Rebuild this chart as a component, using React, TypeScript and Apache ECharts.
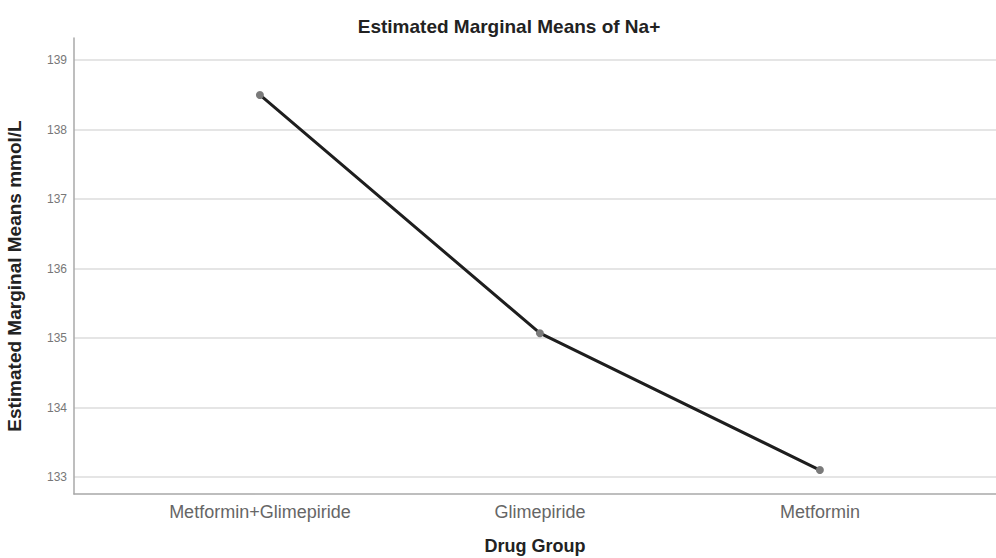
import React, { useEffect, useRef } from "react";
import * as echarts from "echarts";

const categories = ["Metformin+Glimepiride", "Glimepiride", "Metformin"];
const means = [138.5, 135.07, 133.1];
const yTicks = [133, 134, 135, 136, 137, 138, 139];

const FONT = "Liberation Sans, Arial, sans-serif";

export default function App() {
  const ref = useRef<HTMLDivElement>(null);
  useEffect(() => {
    if (!ref.current) return;
    const chart = echarts.init(ref.current, null, { renderer: "svg" });
    chart.setOption({
      animation: false,
      backgroundColor: "#ffffff",
      title: {
        text: "Estimated Marginal Means of Na+",
        left: 504,
        top: 12,
        textAlign: "center",
        textStyle: { fontFamily: FONT, fontSize: 19, fontWeight: "bold", color: "#222" },
      },
      grid: { left: 74, right: 0, top: 38, bottom: 64, containLabel: false, outerBoundsMode: "none" },
      xAxis: {
        type: "value",
        min: -0.664,
        max: 2.629,
        name: "Drug Group",
        nameLocation: "middle",
        nameGap: 43,
        nameTextStyle: { fontFamily: FONT, fontSize: 18, fontWeight: "bold", color: "#222", verticalAlign: "top" },
        axisLine: { show: true, onZero: false, lineStyle: { color: "#a8a8a8", width: 1.5 } },
        axisTick: { show: false, customValues: [0, 1, 2] },
        splitLine: { show: false },
        axisLabel: {
          customValues: [0, 1, 2],
          formatter: (v: number) => categories[Math.round(v)] ?? "",
          margin: 9,
          fontFamily: FONT,
          fontSize: 18,
          color: "#666",
        },
      },
      yAxis: {
        type: "value",
        min: 132.755,
        max: 139.32,
        name: "Estimated Marginal Means mmol/L",
        nameLocation: "middle",
        nameGap: 50,
        nameTextStyle: { fontFamily: FONT, fontSize: 19, fontWeight: "bold", color: "#222", padding: [0, 20, 0, 0] },
        axisLine: { show: true, onZero: false, lineStyle: { color: "#a8a8a8", width: 1.5 } },
        axisTick: { show: false, customValues: yTicks },
        axisLabel: {
          customValues: yTicks,
          margin: 7,
          fontFamily: FONT,
          fontSize: 12,
          color: "#777",
        },
        splitLine: { show: true, lineStyle: { color: "#dcdcdc", width: 1.5 } },
      },
      series: [
        {
          type: "line",
          data: means.map((m, i) => [i, m]),
          symbol: "circle",
          symbolSize: 8,
          itemStyle: { color: "#7a7a7a" },
          lineStyle: { color: "#1e1e1e", width: 3 },
          z: 3,
        },
      ],
    });
    return () => chart.dispose();
  }, []);
  return <div ref={ref} style={{ width: 996, height: 558, position: "absolute", left: 0, top: 0 }} />;
}
